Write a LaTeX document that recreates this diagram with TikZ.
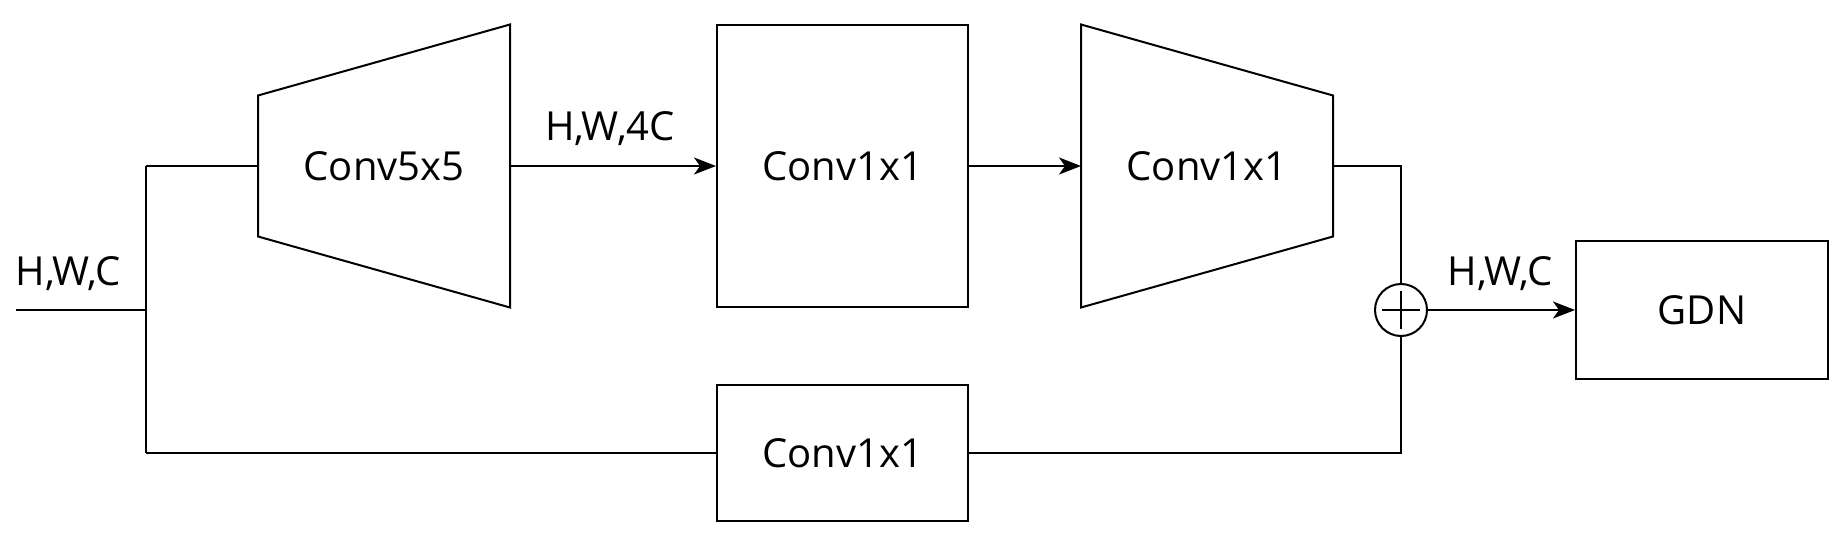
\documentclass[tikz,border=0pt]{standalone}
\usepackage{fontspec}
\setmainfont{Open Sans}
\usetikzlibrary{arrows.meta}
\begin{document}
\begin{tikzpicture}[x=1pt,y=-1pt, line width=2pt,
  lbl/.style={font=\fontsize{40}{46}\selectfont, inner sep=0pt},
  blk/.style={draw, lbl, minimum width=251pt},
  trap/.style={lbl, minimum width=250pt, minimum height=281pt},
  arr/.style={-{Stealth[length=22pt,width=17pt,inset=6pt]}},
]
\useasboundingbox (0,0) rectangle (1844,540);
% nodes
\coordinate (in) at (16,310);
\coordinate (j) at (146,310);
\coordinate (jt) at (146,166);
\coordinate (jb) at (146,453);
\node[trap] (t1) at (384,166) {Conv5x5};
\node[blk, minimum height=281pt] (b1) at (842.5,166) {Conv1x1};
\node[trap] (t2) at (1207,166) {Conv1x1};
\node[blk, minimum height=136pt] (b2) at (842.5,453) {Conv1x1};
\node[circle, draw, minimum size=52pt, inner sep=0pt] (sum) at (1401,310) {};
\node[draw, lbl, minimum width=252pt, minimum height=138pt] (gdn) at (1702,310) {GDN};
% trapezoids
\draw ([yshift=-71pt]t1.north west) -- (t1.north east) -- (t1.south east) -- ([yshift=71pt]t1.south west) -- cycle;
\draw (t2.north west) -- ([yshift=-71pt]t2.north east) -- ([yshift=71pt]t2.south east) -- (t2.south west) -- cycle;
% plus sign
\draw ([xshift=-19pt]sum.center) -- ([xshift=19pt]sum.center);
\draw ([yshift=-19pt]sum.center) -- ([yshift=19pt]sum.center);
% connectors
\draw (in) -- (j);
\draw (jt) -- (jb);
\draw (jt) -- (t1.west);
\draw[arr] (t1.east) -- (b1.west);
\draw[arr] (b1.east) -- (t2.west);
\draw (t2.east) -| (sum.north);
\draw (jb) -- (b2.west);
\draw (b2.east) -| (sum.south);
\draw[arr] (sum.east) -- (gdn.west);
% labels
\node[lbl, anchor=base] (l1) at (68,285) {H,W,C};
\node[lbl, anchor=base] (l2) at (610,141) {H,W,4C};
\node[lbl, anchor=base] (l3) at (1500,285) {H,W,C};
\end{tikzpicture}
\end{document}
